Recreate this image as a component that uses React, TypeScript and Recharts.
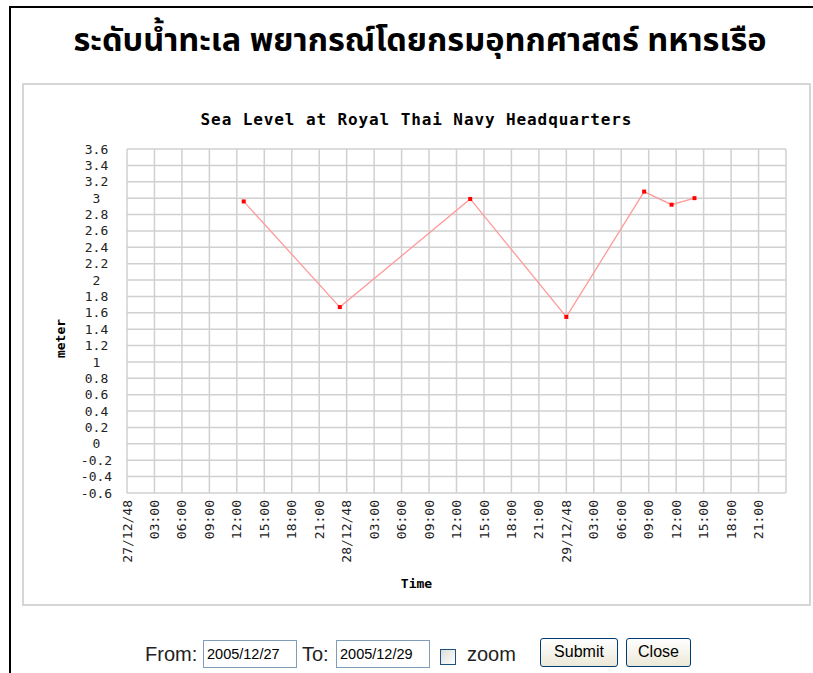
import { LineChart, Line, XAxis, YAxis, CartesianGrid } from "recharts";

// readings: hours after 27/12/48 00:00, sea level in metres
const hours = [12.75, 23.25, 37.5, 48, 56.5, 59.5, 62];
const seaLevel = [2.96, 1.67, 2.99, 1.55, 3.08, 2.92, 3.0];

const xTicks = [0, 3, 6, 9, 12, 15, 18, 21, 24, 27, 30, 33, 36, 39, 42, 45, 48, 51, 54, 57, 60, 63, 66, 69, 72];
const xTickLabels = [
  "27/12/48", "03:00", "06:00", "09:00", "12:00", "15:00", "18:00", "21:00",
  "28/12/48", "03:00", "06:00", "09:00", "12:00", "15:00", "18:00", "21:00",
  "29/12/48", "03:00", "06:00", "09:00", "12:00", "15:00", "18:00", "21:00",
  "",
];
const yTicks = [-0.6, -0.4, -0.2, 0, 0.2, 0.4, 0.6, 0.8, 1, 1.2, 1.4, 1.6, 1.8, 2, 2.2, 2.4, 2.6, 2.8, 3, 3.2, 3.4, 3.6];
const yTickLabels = ["-0.6", "-0.4", "-0.2", "0", "0.2", "0.4", "0.6", "0.8", "1", "1.2", "1.4", "1.6", "1.8", "2", "2.2", "2.4", "2.6", "2.8", "3", "3.2", "3.4", "3.6"];

const data = hours.map((h, i) => ({ hour: h, level: seaLevel[i] }));

const mono = "'DejaVu Sans Mono', monospace";
const sans = "'Liberation Sans', Arial, sans-serif";

function TimeTick({ x, y, payload }: any) {
  const i = xTicks.indexOf(payload.value);
  return (
    <text
      x={x}
      y={y}
      dy="0.35em"
      textAnchor="end"
      transform={`rotate(-90 ${x} ${y})`}
      fontFamily={mono}
      fontSize={13}
      fill="#222"
    >
      {xTickLabels[i]}
    </text>
  );
}

function LevelTick({ x, y, payload }: any) {
  const i = yTicks.indexOf(payload.value);
  return (
    <text x={x - 30.5} y={y} dy="0.35em" textAnchor="middle" fontFamily={mono} fontSize={13} fill="#222">
      {yTickLabels[i]}
    </text>
  );
}

function SquareDot({ cx, cy, index }: any) {
  return <rect key={`d-${index}`} x={cx - 2} y={cy - 2} width={4} height={4} fill="#ff0000" />;
}

const abs = (s: any) => ({ position: "absolute" as const, ...s });

export default function App() {
  return (
    <div style={abs({ left: 0, top: 0, width: 813, height: 673, overflow: "hidden", background: "#fff" })}>
      <div style={abs({ left: 9, top: 6, width: 900, height: 800, border: "2px solid #000" })} />
      <div
        style={abs({
          left: 0,
          top: 18,
          width: 840,
          textAlign: "center",
          fontFamily: "Tahoma, 'Noto Sans Thai', 'Noto Sans', sans-serif",
          fontWeight: "bold",
          fontSize: 32.5,
          lineHeight: "48px",
          color: "#000",
        })}
      >
        ระดับน้ำทะเล พยากรณ์โดยกรมอุทกศาสตร์ ทหารเรือ
      </div>
      <div style={abs({ left: 22, top: 83, width: 785, height: 519, border: "2px solid #d6d6d6", background: "#fff" })} />
      <div
        style={abs({
          left: 22,
          top: 110,
          width: 789,
          textAlign: "center",
          fontFamily: mono,
          fontWeight: "bold",
          fontSize: 16,
          letterSpacing: 0.9,
          lineHeight: "20px",
          color: "#000",
        })}
      >
        Sea Level at Royal Thai Navy Headquarters
      </div>
      <div style={abs({ left: 0, top: 0 })}>
        <LineChart width={813} height={620} data={data} margin={{ top: 149, right: 27, bottom: 0, left: 0 }}>
          <CartesianGrid stroke="#d0d0d0" strokeWidth={1.5} />
          <XAxis
            dataKey="hour"
            type="number"
            domain={[0, 72]}
            ticks={xTicks}
            interval={0}
            height={127}
            axisLine={false}
            tickLine={false}
            tickSize={0}
            tickMargin={7}
            tick={<TimeTick />}
          />
          <YAxis
            type="number"
            domain={[-0.6, 3.6]}
            ticks={yTicks}
            interval={0}
            width={127}
            axisLine={false}
            tickLine={false}
            tickSize={0}
            tickMargin={0}
            tick={<LevelTick />}
          />
          <Line
            dataKey="level"
            stroke="#ff9a9a"
            strokeWidth={1.3}
            dot={<SquareDot />}
            activeDot={false}
            isAnimationActive={false}
          />
        </LineChart>
      </div>
      <div
        style={abs({
          left: 22,
          top: 575,
          width: 789,
          textAlign: "center",
          fontFamily: mono,
          fontWeight: "bold",
          fontSize: 13,
          lineHeight: "17px",
        })}
      >
        Time
      </div>
      <div
        style={abs({
          left: 30,
          top: 330,
          width: 60,
          textAlign: "center",
          fontFamily: mono,
          fontWeight: "bold",
          fontSize: 13,
          lineHeight: "17px",
          transform: "rotate(-90deg)",
        })}
      >
        meter
      </div>
      <div style={abs({ left: 145, top: 641, fontFamily: sans, fontSize: 20, color: "#222", lineHeight: "26px" })}>From:</div>
      <div
        style={abs({
          left: 203, top: 640, width: 89, height: 26, border: "1px solid #7f9db9",
          fontFamily: sans, fontSize: 14.5, lineHeight: "26px", paddingLeft: 3, color: "#000",
        })}
      >
        2005/12/27
      </div>
      <div style={abs({ left: 302, top: 641, fontFamily: sans, fontSize: 20, color: "#222", lineHeight: "26px" })}>To:</div>
      <div
        style={abs({
          left: 336, top: 640, width: 89, height: 26, border: "1px solid #7f9db9",
          fontFamily: sans, fontSize: 14.5, lineHeight: "26px", paddingLeft: 3, color: "#000",
        })}
      >
        2005/12/29
      </div>
      <div style={abs({ left: 440, top: 649, width: 14, height: 14, border: "1px solid #1c5180", background: "linear-gradient(135deg,#dcdcd7,#fff)" })} />
      <div style={abs({ left: 467, top: 641, fontFamily: sans, fontSize: 20, color: "#222", lineHeight: "26px" })}>zoom</div>
      <div
        style={abs({
          left: 540, top: 638, width: 76, height: 27, border: "1px solid #003c74", borderRadius: 3,
          background: "linear-gradient(#ffffff, #ece9d8)", fontFamily: sans, fontSize: 16, lineHeight: "26px",
          textAlign: "center", color: "#000",
        })}
      >
        Submit
      </div>
      <div
        style={abs({
          left: 626, top: 638, width: 63, height: 27, border: "1px solid #003c74", borderRadius: 3,
          background: "linear-gradient(#ffffff, #ece9d8)", fontFamily: sans, fontSize: 16, lineHeight: "26px",
          textAlign: "center", color: "#000",
        })}
      >
        Close
      </div>
    </div>
  );
}
